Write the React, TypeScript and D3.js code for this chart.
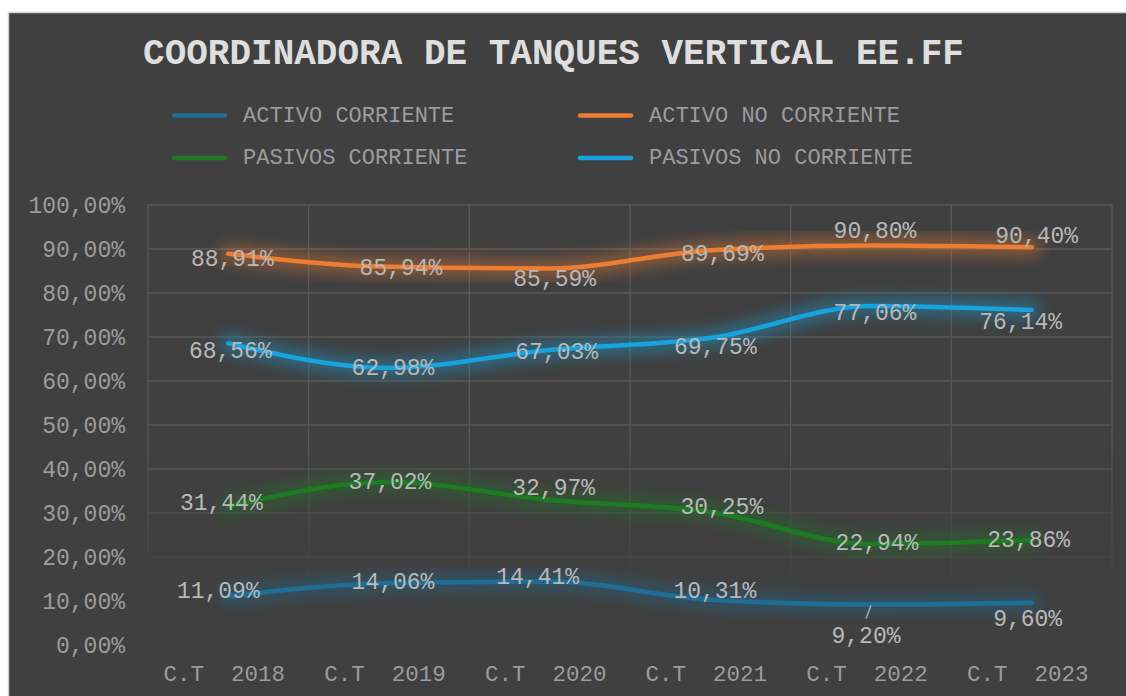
import * as d3 from 'd3';

const categories = ['C.T  2018', 'C.T  2019', 'C.T  2020', 'C.T  2021', 'C.T  2022', 'C.T  2023'];

const activoCorriente = [11.09, 14.06, 14.41, 10.31, 9.2, 9.6];
const activoNoCorriente = [88.91, 85.94, 85.59, 89.69, 90.8, 90.4];
const pasivosCorriente = [31.44, 37.02, 32.97, 30.25, 22.94, 23.86];
const pasivosNoCorriente = [68.56, 62.98, 67.03, 69.75, 77.06, 76.14];

const yTicks = [0, 10, 20, 30, 40, 50, 60, 70, 80, 90, 100];

// label nudges (px) -- the labels were dragged around by hand in the original
const nudgeAC = [[-10, -6], [4, -1.5], [-12, -5], [4.5, -9], [-5, 31], [-4, 16]];
const nudgeANC = [[4, 4.5], [12, 0.5], [5, 10.5], [12, 3.5], [4, -15], [5, -12]];
const nudgePC = [[-7, -4], [1, -1], [4, -12.5], [11.5, -5], [6, -1.5], [-3, -1]];
const nudgePNC = [[2, 7], [4, 0], [7, 1.5], [5, 8], [4, 6.5], [-11, 11.5]];

const series = [
  { name: 'ACTIVO CORRIENTE', values: activoCorriente, color: '#1f6e96', nudge: nudgeAC },
  { name: 'ACTIVO NO CORRIENTE', values: activoNoCorriente, color: '#ed7d31', nudge: nudgeANC },
  { name: 'PASIVOS CORRIENTE', values: pasivosCorriente, color: '#1e7b24', nudge: nudgePC },
  { name: 'PASIVOS NO CORRIENTE', values: pasivosNoCorriente, color: '#16a3de', nudge: nudgePNC },
];

const font = '"Liberation Mono", "Courier New", monospace';
const fmt = d3.formatLocale({ decimal: ',', thousands: '.', grouping: [3], currency: ['', ''] }).format('.2f');
const pct = (v: number) => fmt(v) + '%';

export default function App() {
  const x = d3.scaleBand().domain(categories).range([148, 1112]);
  const y = d3.scaleLinear().domain([0, 100]).range([645, 205]);
  const cx = (i: number) => x(categories[i])! + x.bandwidth() / 2;

  const line = d3
    .line<number>()
    .x((_, i) => cx(i))
    .y((d) => y(d))
    .curve(d3.curveMonotoneX);

  const legendPos = [
    [174, 115.5],
    [580, 115.5],
    [174, 158],
    [580, 158],
  ];

  return (
    <svg
      width={1126}
      height={696}
      style={{ position: 'absolute', left: 0, top: 0, fontFamily: font }}
    >
      <defs>
        <filter id="glow" x="-20%" y="-60%" width="140%" height="220%">
          <feGaussianBlur stdDeviation="7" />
        </filter>
        <linearGradient id="fade" gradientUnits="userSpaceOnUse" x1="0" y1="205" x2="0" y2="600">
          <stop offset="0" stopColor="#fff" />
          <stop offset="0.6" stopColor="#fff" stopOpacity="0.9" />
          <stop offset="1" stopColor="#fff" stopOpacity="0" />
        </linearGradient>
        <mask id="gridMask" maskUnits="userSpaceOnUse" x="0" y="0" width="1126" height="696">
          <rect x="0" y="0" width="1126" height="696" fill="url(#fade)" />
        </mask>
      </defs>

      <rect x={0} y={0} width={1126} height={696} fill="#ffffff" />
      <rect x={8.5} y={12.5} width={1200} height={800} fill="#404040" stroke="#d0d0d0" strokeWidth={1.5} />

      <text
        x={553.5}
        y={52.5}
        dy="0.33em"
        textAnchor="middle"
        fontSize={36}
        fontWeight="bold"
        fill="#dedede"
      >
        COORDINADORA DE TANQUES VERTICAL EE.FF
      </text>

      {series.map((s, i) => (
        <g key={s.name}>
          <line
            x1={legendPos[i][0]}
            x2={legendPos[i][0] + 51}
            y1={legendPos[i][1]}
            y2={legendPos[i][1]}
            stroke={s.color}
            strokeWidth={4.5}
            strokeLinecap="round"
          />
          <text
            x={legendPos[i][0] + 69}
            y={legendPos[i][1] - 1}
            dy="0.33em"
            fontSize={22}
            fill="#9c9c9c"
          >
            {s.name}
          </text>
        </g>
      ))}

      <g mask="url(#gridMask)" stroke="#5a5a5a" strokeWidth={1.3}>
        {yTicks.map((t) => (
          <line key={t} x1={148} x2={1112} y1={y(t)} y2={y(t)} />
        ))}
        {categories.map((c) => (
          <line key={c} x1={x(c)} x2={x(c)} y1={205} y2={645} />
        ))}
        <line x1={1112} x2={1112} y1={205} y2={645} />
      </g>

      {yTicks.map((t) => (
        <text key={t} x={125} y={y(t)} dy="0.33em" textAnchor="end" fontSize={23} fill="#9c9c9c">
          {pct(t)}
        </text>
      ))}

      {categories.map((c) => (
        <text
          key={c}
          x={x(c)! + x.bandwidth() / 2 - 4}
          y={673.5}
          dy="0.33em"
          textAnchor="middle"
          fontSize={22.5}
          fill="#9c9c9c"
          style={{ whiteSpace: 'pre' }}
        >
          {c}
        </text>
      ))}

      {series.map((s) => (
        <path
          key={s.name + '-glow'}
          d={line(s.values)!}
          fill="none"
          stroke={s.color}
          strokeWidth={20}
          strokeLinecap="round"
          strokeLinejoin="round"
          opacity={0.38}
          filter="url(#glow)"
        />
      ))}
      {series.map((s) => (
        <path
          key={s.name}
          d={line(s.values)!}
          fill="none"
          stroke={s.color}
          strokeWidth={4.5}
          strokeLinecap="round"
          strokeLinejoin="round"
        />
      ))}

      {/* leader line for the 9,20% label */}
      <line
        x1={cx(4)}
        y1={y(activoCorriente[4]) + 1}
        x2={cx(4) + nudgeAC[4][0]}
        y2={y(activoCorriente[4]) + nudgeAC[4][1] - 17}
        stroke="#a6a6a6"
        strokeWidth={1.5}
      />

      {series.map((s) =>
        s.values.map((v, i) => (
          <text
            key={s.name + i}
            x={cx(i) + s.nudge[i][0]}
            y={y(v) + s.nudge[i][1]}
            dy="0.33em"
            textAnchor="middle"
            fontSize={23}
            fill="#b8b8b8"
          >
            {pct(v)}
          </text>
        ))
      )}
    </svg>
  );
}
